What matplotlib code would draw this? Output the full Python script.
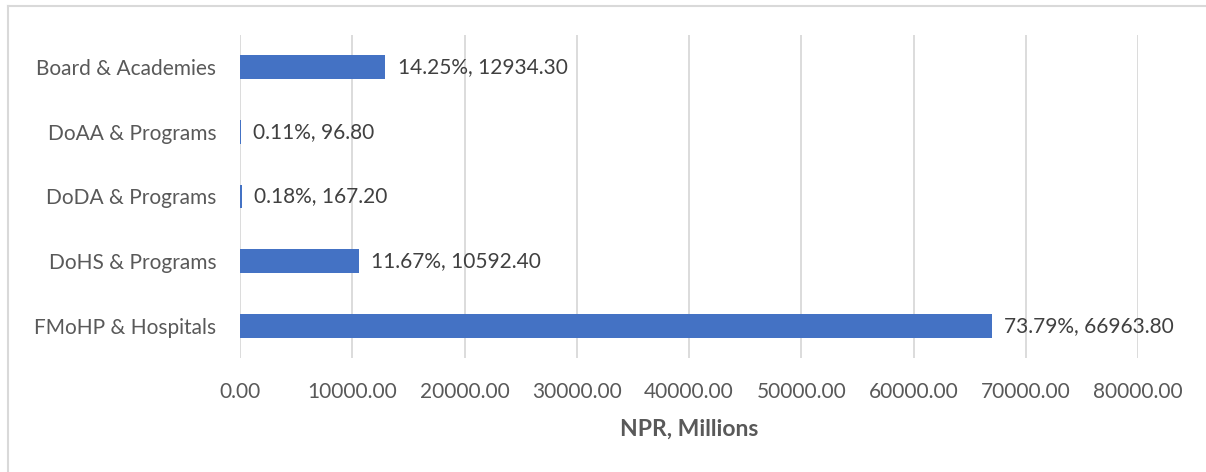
import matplotlib.pyplot as plt
from matplotlib.lines import Line2D

categories = ['FMoHP & Hospitals', 'DoHS & Programs', 'DoDA & Programs',
              'DoAA & Programs', 'Board & Academies']
values = [66963.80, 10592.40, 167.20, 96.80, 12934.30]
shares = ['73.79%', '11.67%', '0.18%', '0.11%', '14.25%']
xticks = [0, 10000, 20000, 30000, 40000, 50000, 60000, 70000, 80000]

plt.rcParams['font.family'] = ['Lato', 'DejaVu Sans']

fig = plt.figure(figsize=(12.06, 4.72), dpi=100)
ax = fig.add_axes([240 / 1206, 1 - 358 / 472, (1138 - 240) / 1206, (358 - 35) / 472])

ypos = range(len(categories))
ax.barh(ypos, values, height=0.37, color='#4472C4', zorder=3)

for y, v, s in zip(ypos, values, shares):
    ax.text(v + 1100, y, f'{s}, {v:.2f}', va='center', ha='left',
            fontsize=15, color='#404040')

ax.set_xlim(0, 80000)
ax.set_ylim(-0.5, 4.5)
ax.set_xticks(xticks)
ax.set_xticklabels([f'{t:.2f}' for t in xticks])
ax.set_yticks(list(ypos))
ax.set_yticklabels(categories)
ax.tick_params(axis='both', length=0, labelsize=15, colors='#595959')
ax.tick_params(axis='x', pad=17)
ax.tick_params(axis='y', pad=17)
ax.grid(axis='x', color='#d9d9d9', linewidth=1.3, zorder=0)
for sp in ax.spines.values():
    sp.set_visible(False)

ax.set_xlabel('NPR, Millions', fontsize=16.5, fontweight='bold', color='#595959', labelpad=12)

# light frame around the chart area
fig.add_artist(Line2D([7.5 / 1206, 1], [1 - 5.5 / 472, 1 - 5.5 / 472],
                      transform=fig.transFigure, color='#d9d9d9', lw=1.5))
fig.add_artist(Line2D([7.5 / 1206, 7.5 / 1206], [0, 1 - 5.5 / 472],
                      transform=fig.transFigure, color='#d9d9d9', lw=1.5))

plt.savefig('out.png', dpi=100)
